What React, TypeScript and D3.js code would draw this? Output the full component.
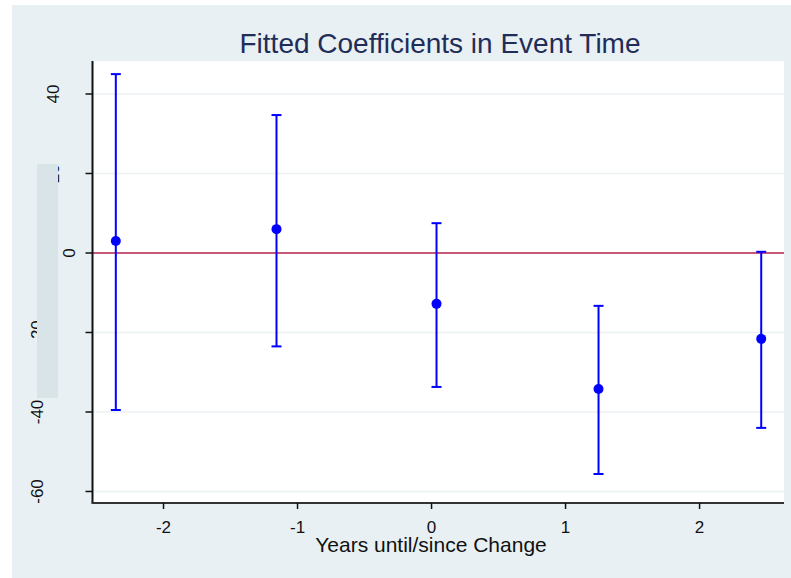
import React from "react";
import * as d3 from "d3";

// Data
const eventTimes = [-2.356, -1.157, 0.037, 1.246, 2.46];
const coefficients = [3.0, 6.0, -12.8, -34.2, -21.6];
const upperCI = [45.0, 34.7, 7.5, -13.3, 0.3];
const lowerCI = [-39.5, -23.5, -33.7, -55.6, -44.0];
const xTicks = [-2, -1, 0, 1, 2];
const yTicks = [-60, -40, -20, 0, 20, 40];

const W = 791;
const H = 578;
const plot = { left: 92.5, right: 784, top: 61, bottom: 503 };

// Label baseline x per y tick (the reference has them unevenly placed)
const yLabelBaseline: Record<number, number> = { "-60": 43, "-40": 43, "-20": 43, "0": 75, "20": 59, "40": 59 } as any;

export default function App() {
  const x = d3.scaleLinear().domain([-2.53, 2.63]).range([plot.left, plot.right]);
  const y = d3.scaleLinear().domain([-62.9, 48.3]).range([plot.bottom, plot.top]);
  const font = "'Liberation Sans', Arial, Helvetica, sans-serif";
  const blue = "#0000ff";

  return (
    <svg width={W} height={H} style={{ position: "absolute", left: 0, top: 0 }} fontFamily={font}>
      <rect x={0} y={0} width={W} height={H} fill="#ffffff" />
      <rect x={12} y={5} width={W - 12} height={H - 5} fill="#e8f0f3" />
      <rect x={plot.left} y={plot.top} width={plot.right - plot.left} height={plot.bottom - plot.top} fill="#ffffff" />
      <text x={440} y={53} textAnchor="middle" fontSize={28} fill="#1f2d58">
        Fitted Coefficients in Event Time
      </text>
      {/* gridlines */}
      {yTicks.map((t) => (
        <line key={"g" + t} x1={plot.left} x2={plot.right} y1={y(t)} y2={y(t)} stroke="#ecf2f4" strokeWidth={1.5} />
      ))}
      {/* zero line */}
      <line x1={plot.left} x2={plot.right} y1={y(0)} y2={y(0)} stroke="#b8234c" strokeWidth={1.5} />
      {/* error bars */}
      {eventTimes.map((t, i) => (
        <g key={"e" + i} stroke={blue} strokeWidth={2}>
          <line x1={x(t)} x2={x(t)} y1={y(upperCI[i])} y2={y(lowerCI[i])} />
          <line x1={x(t) - 5} x2={x(t) + 5} y1={y(upperCI[i])} y2={y(upperCI[i])} />
          <line x1={x(t) - 5} x2={x(t) + 5} y1={y(lowerCI[i])} y2={y(lowerCI[i])} />
        </g>
      ))}
      {eventTimes.map((t, i) => (
        <circle key={"p" + i} cx={x(t)} cy={y(coefficients[i])} r={5} fill={blue} />
      ))}
      {/* axes */}
      <line x1={plot.left} x2={plot.left} y1={plot.top} y2={plot.bottom} stroke="#111" strokeWidth={2} />
      <line x1={plot.left - 1} x2={plot.right} y1={plot.bottom} y2={plot.bottom} stroke="#333" strokeWidth={2} />
      {yTicks.map((t) => (
        <g key={"yt" + t}>
          <line x1={plot.left - 7} x2={plot.left} y1={y(t)} y2={y(t)} stroke="#111" strokeWidth={1.5} />
          <text
            transform={`translate(${yLabelBaseline[t]},${y(t)}) rotate(-90)`}
            textAnchor="middle"
            fontSize={17}
            fill="#111"
          >
            {t}
          </text>
        </g>
      ))}
      {xTicks.map((t) => (
        <g key={"xt" + t}>
          <line x1={x(t)} x2={x(t)} y1={plot.bottom} y2={plot.bottom + 6} stroke="#111" strokeWidth={1.5} />
          <text x={x(t)} y={533} textAnchor="middle" fontSize={17} fill="#111">
            {t}
          </text>
        </g>
      ))}
      <text x={431} y={552} textAnchor="middle" fontSize={21} fill="#111">
        Years until/since Change
      </text>
      {/* overlay box obscuring part of the y labels */}
      <rect x={37} y={164} width={21} height={234} fill="#d9e4e9" />
    </svg>
  );
}
